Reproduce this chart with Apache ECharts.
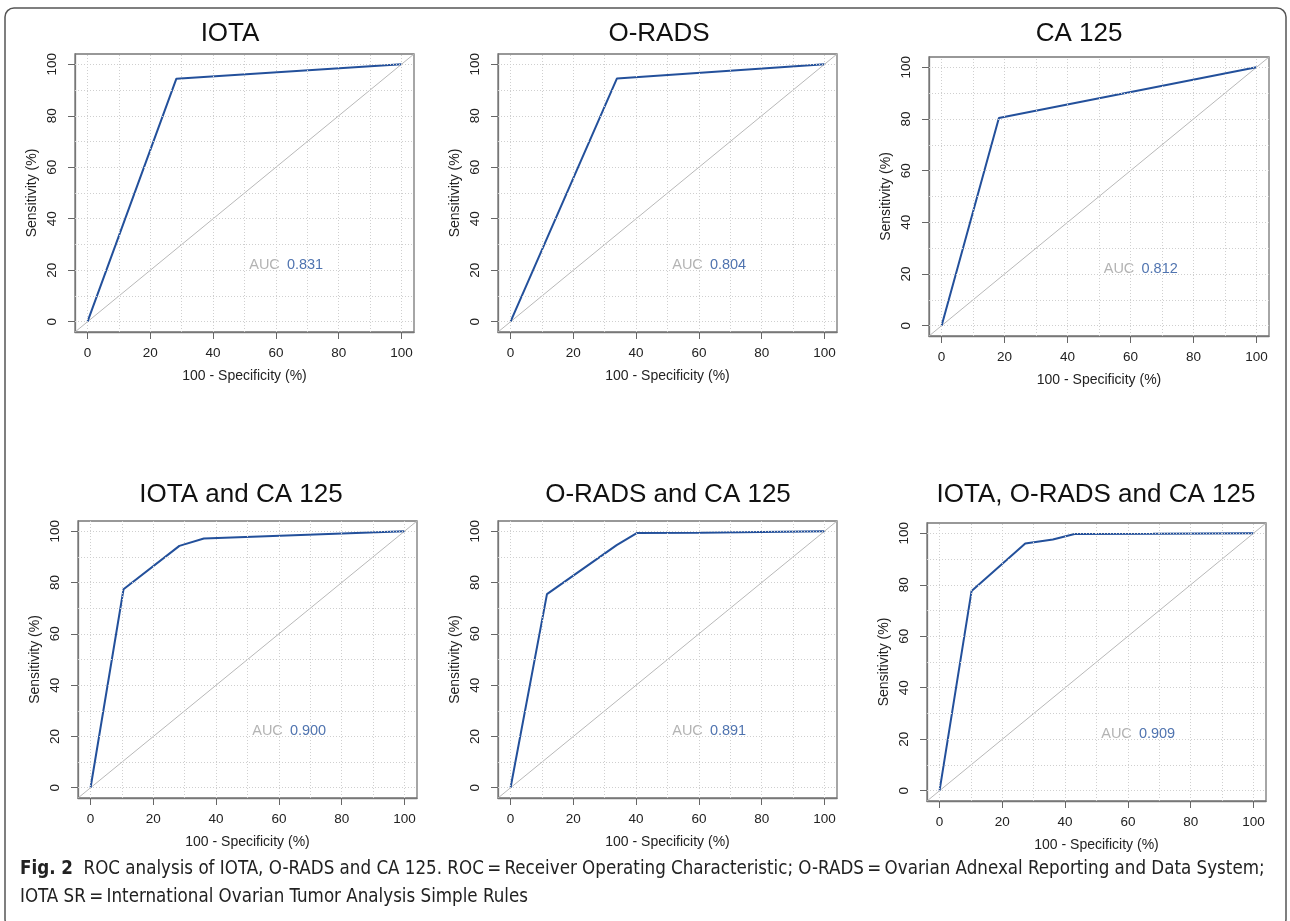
<!DOCTYPE html>
<html>
<head>
<meta charset="utf-8">
<script src="https://cdn.jsdelivr.net/npm/echarts@6/dist/echarts.min.js"></script>
<style>
  html, body { margin: 0; padding: 0; background: #fff; }
  #chart { width: 1290px; height: 921px; }
</style>
</head>
<body>
<div id="chart"></div>
<script>
// values
var panelTitles = ['IOTA', 'O-RADS', 'CA 125', 'IOTA and CA 125', 'O-RADS and CA 125', 'IOTA, O-RADS and CA 125'];
var aucValues = ['0.831', '0.804', '0.812', '0.900', '0.891', '0.909'];

var fprIota = [0, 28.3, 100];
var sensIota = [0, 94.4, 100];
var fprOrads = [0, 33.9, 100];
var sensOrads = [0, 94.5, 100];
var fprCa = [0, 18.2, 100];
var sensCa = [0, 80.4, 100];
var fprIotaCa = [0, 10.5, 28.3, 36.1, 100];
var sensIotaCa = [0, 77.4, 94.3, 97.2, 100];
var fprOradsCa = [0, 11.6, 33.8, 40.2, 60.5, 80, 100];
var sensOradsCa = [0, 75.5, 94.6, 99.3, 99.4, 99.7, 100];
var fprAll = [0, 10.2, 27.3, 36.1, 43.0, 68, 100];
var sensAll = [0, 77.6, 96.0, 97.6, 99.7, 99.8, 100];

var tickValues = [0, 20, 40, 60, 80, 100];
var gridValues = [0, 10, 20, 30, 40, 50, 60, 70, 80, 90, 100];

var fprs = [fprIota, fprOrads, fprCa, fprIotaCa, fprOradsCa, fprAll];
var senss = [sensIota, sensOrads, sensCa, sensIotaCa, sensOradsCa, sensAll];

// layout (pixels)
var boxes = [
    [75, 54, 339, 278],
    [498, 54, 339, 278],
    [929, 57, 340, 279],
    [78, 521, 339, 277],
    [498, 521, 339, 277],
    [927, 523, 339, 278]
];
var titlePos = [[230, 34], [659, 34], [1079, 34], [241, 495], [668, 495], [1096, 495]];

var FONT = 'Liberation Sans, Arial, sans-serif';
var BLUE = '#23509b';

var grids = [], xAxes = [], yAxes = [], series = [], graphics = [];

boxes.forEach(function (b, i) {
    grids.push({
        left: b[0], top: b[1], width: b[2], height: b[3],
        show: true, borderColor: '#777', borderWidth: 1.3, backgroundColor: 'transparent'
    });

    var axisCommon = {
        type: 'value', gridIndex: i, min: -4, max: 104,
        axisLine: { show: true, onZero: false, lineStyle: { color: '#777', width: 1.3 } },
        axisTick: { show: true, inside: false, length: 7, lineStyle: { color: '#666', width: 1 }, customValues: tickValues },
        axisLabel: { customValues: tickValues, fontFamily: FONT, fontSize: 13.5, color: '#222' },
        splitLine: { show: false },
        nameLocation: 'middle',
        nameTextStyle: { fontFamily: FONT, fontSize: 14, color: '#222' }
    };

    xAxes.push(Object.assign({}, axisCommon, {
        name: '100 - Specificity (%)',
        nameGap: 37,
        axisLabel: Object.assign({}, axisCommon.axisLabel, { margin: 14 })
    }));
    yAxes.push(Object.assign({}, axisCommon, {
        name: 'Sensitivity (%)',
        nameGap: 36,
        axisLabel: Object.assign({}, axisCommon.axisLabel, { rotate: 90, margin: 16 })
    }));

    // diagonal reference line + dotted grid
    series.push({
        type: 'line', xAxisIndex: i, yAxisIndex: i,
        data: [[-4, -4], [104, 104]],
        showSymbol: false, silent: true,
        lineStyle: { color: '#b8b8b8', width: 1 },
        markLine: {
            silent: true, symbol: ['none', 'none'], label: { show: false },
            lineStyle: { type: [1, 2], color: '#cfcfcf', width: 1 },
            data: gridValues.map(function (v) { return { xAxis: v }; })
                .concat(gridValues.map(function (v) { return { yAxis: v }; }))
        }
    });

    // ROC curve
    series.push({
        type: 'line', xAxisIndex: i, yAxisIndex: i,
        data: fprs[i].map(function (x, k) { return [x, senss[i][k]]; }),
        showSymbol: false, silent: true,
        lineStyle: { color: BLUE, width: 2 }
    });

    // AUC text
    series.push({
        type: 'scatter', xAxisIndex: i, yAxisIndex: i,
        symbolSize: 0, silent: true,
        label: { show: true, position: 'right', distance: 0, fontFamily: FONT, fontSize: 14.5 },
        data: [
            { value: [51.5, 22], label: { formatter: 'AUC', color: '#a0a0a0' } },
            { value: [63.5, 22], label: { formatter: aucValues[i], color: BLUE } }
        ]
    });

    graphics.push({
        type: 'text', x: titlePos[i][0], y: titlePos[i][1], silent: true,
        style: {
            text: panelTitles[i], fill: '#111', font: '26px ' + FONT,
            textAlign: 'center', textVerticalAlign: 'middle'
        }
    });
});

// outer frame and caption
graphics.push({
    type: 'rect', silent: true, z: -1,
    shape: { x: 5, y: 8, width: 1281, height: 920, r: 9 },
    style: { fill: 'none', stroke: '#555', lineWidth: 1.5 }
});
var capFont = '"Liberation Sans Narrow", "DejaVu Sans Condensed", "Open Sans", sans-serif';
graphics.push({
    type: 'text', x: 20, y: 869, silent: true,
    style: {
        text: '{b|Fig. 2}  ROC analysis of IOTA, O-RADS and CA 125. ROC\u2009=\u2009Receiver Operating Characteristic; O-RADS\u2009=\u2009Ovarian Adnexal Reporting and Data System;',
        font: '18.6px ' + capFont, fill: '#222', textVerticalAlign: 'middle',
        rich: { b: { fontWeight: 'bold', fontSize: 18.6, fontFamily: capFont, fill: '#222' } }
    }
});
graphics.push({
    type: 'text', x: 20, y: 897, silent: true,
    style: {
        text: 'IOTA SR\u2009=\u2009International Ovarian Tumor Analysis Simple Rules',
        font: '18.6px ' + capFont, fill: '#222', textVerticalAlign: 'middle'
    }
});

var chart = echarts.init(document.getElementById('chart'), null, { renderer: 'canvas' });
chart.setOption({
    animation: false,
    backgroundColor: '#fff',
    grid: grids,
    xAxis: xAxes,
    yAxis: yAxes,
    series: series,
    graphic: graphics
});
</script>
</body>
</html>
